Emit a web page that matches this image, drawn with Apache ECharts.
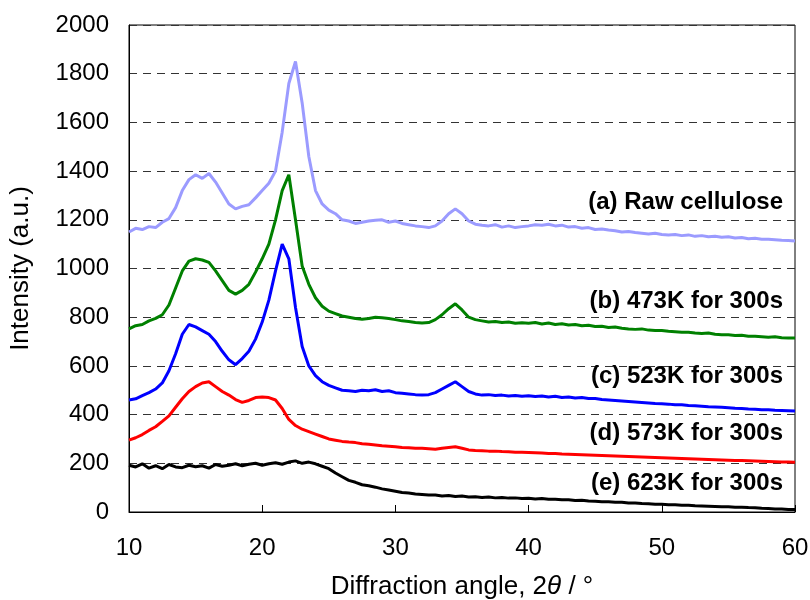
<!DOCTYPE html>
<html>
<head>
<meta charset="utf-8">
<script src="https://cdn.jsdelivr.net/npm/echarts@6/dist/echarts.min.js"></script>
<style>html,body{margin:0;padding:0;background:#fff}#c{width:810px;height:600px}</style>
</head>
<body>
<div id="c"></div>
<script>
// Sampling grid: 10° to 60° in 0.5° steps
const angleStart = 10, angleStep = 0.5;

const rawCellulose = [1150,1165,1160,1172,1168,1190,1205,1250,1320,1365,1385,1370,1390,1355,1310,1265,1245,1255,1262,1290,1320,1350,1400,1560,1760,1850,1680,1460,1320,1265,1240,1225,1200,1195,1185,1190,1195,1198,1200,1190,1195,1185,1180,1175,1172,1168,1175,1195,1225,1245,1225,1195,1182,1178,1175,1180,1170,1175,1168,1172,1175,1180,1178,1182,1175,1178,1170,1172,1165,1168,1160,1162,1158,1155,1150,1152,1148,1145,1142,1145,1140,1138,1140,1135,1138,1132,1135,1130,1132,1128,1130,1125,1127,1122,1124,1120,1120,1118,1116,1115,1113];
const k473 = [752,765,770,785,795,810,850,920,990,1030,1040,1035,1025,990,950,910,895,910,935,985,1040,1100,1200,1320,1385,1200,1010,935,880,845,825,815,805,800,795,792,795,800,798,795,790,785,782,778,776,778,790,810,835,855,830,800,790,785,780,782,778,780,775,777,775,778,772,776,770,773,768,770,765,767,762,763,758,760,755,752,750,752,747,745,745,742,740,738,738,735,733,735,730,728,728,725,726,722,722,720,718,720,716,715,715];
const k523 = [460,465,478,490,505,530,580,650,730,770,760,745,730,700,660,625,605,630,660,710,780,870,990,1100,1040,840,680,600,560,535,520,510,500,498,495,500,498,502,495,498,490,488,485,482,480,482,490,505,520,535,515,495,485,480,482,478,480,476,478,475,477,474,476,472,475,470,472,468,470,466,466,462,460,458,456,454,452,450,448,446,445,443,440,440,437,436,434,432,431,430,428,426,425,423,422,420,420,418,417,416,415];
const k573 = [295,305,318,335,350,372,395,430,465,495,515,530,535,515,495,480,462,450,458,470,472,470,460,425,380,355,340,330,320,310,300,295,290,287,285,280,278,275,272,270,268,265,264,262,262,260,258,262,265,268,262,255,253,252,250,250,248,247,245,245,244,243,242,240,240,238,237,236,235,234,233,232,231,230,229,228,227,226,225,224,223,222,221,220,219,218,217,216,215,214,213,212,211,210,209,208,207,206,205,205,204];
const k623 = [192,185,198,180,190,178,195,185,182,192,186,190,180,195,188,192,198,190,196,200,192,198,202,196,205,210,200,205,198,188,178,160,145,130,122,112,108,102,95,90,85,80,78,74,72,70,70,66,68,64,66,62,63,60,62,58,60,57,58,55,56,53,55,52,52,50,50,47,48,45,44,42,42,40,40,37,37,35,34,32,32,30,30,28,28,26,25,24,23,22,22,20,20,18,17,15,14,12,12,10,10];

const seriesNames = ['(a) Raw cellulose','(b) 473K for 300s','(c) 523K for 300s','(d) 573K for 300s','(e) 623K for 300s'];
const seriesColors = ['#9b9bff','#008000','#0000ff','#ff0000','#000000'];
const seriesValues = [rawCellulose,k473,k523,k573,k623];
const xTicks = [10,20,30,40,50,60];
const yTicks = [0,200,400,600,800,1000,1200,1400,1600,1800,2000];

const FONT = 'Arial, "Liberation Sans", sans-serif';

function toPairs(vals){ return vals.map((v,i)=>[angleStart + i*angleStep, v]); }

const chart = echarts.init(document.getElementById('c'), null, {renderer:'canvas'});

const labelY = [203, 302, 377, 434, 484];

chart.setOption({
  animation:false,
  backgroundColor:'#fff',
  grid:{left:129,right:15,top:25,bottom:88,show:true,borderColor:'#000',borderWidth:1,backgroundColor:'transparent',outerBoundsMode:'none',containLabel:false},
  xAxis:{
    type:'value',min:10,max:60,interval:10,
    axisLine:{show:true,lineStyle:{color:'#000',width:1}},
    axisTick:{show:true,inside:true,length:7,lineStyle:{color:'#000'}},
    splitLine:{show:false},
    axisLabel:{color:'#000',fontSize:24,fontFamily:FONT,margin:24,formatter:v=>String(v)},
    name:'Diffraction angle, 2{i|θ} / °',
    nameLocation:'middle',nameGap:62,
    nameTextStyle:{color:'#000',fontSize:26,fontFamily:FONT,rich:{i:{fontStyle:'italic',fontSize:26,fontFamily:FONT,color:'#000'}}}
  },
  yAxis:{
    type:'value',min:0,max:2000,interval:200,
    axisLine:{show:true,lineStyle:{color:'#000',width:1}},
    axisTick:{show:false},
    splitLine:{show:true,lineStyle:{color:'#333',type:[8,6],width:1}},
    axisLabel:{color:'#000',fontSize:24,fontFamily:FONT,margin:20,formatter:v=>String(v)},
    name:'Intensity (a.u.)',nameLocation:'middle',nameGap:95,
    nameTextStyle:{color:'#000',fontSize:26,fontFamily:FONT}
  },
  series: seriesValues.map((vals,i)=>({
    type:'line',name:seriesNames[i],data:toPairs(vals),showSymbol:false,symbol:'none',
    lineStyle:{color:seriesColors[i],width:3},itemStyle:{color:seriesColors[i]},
    z:2+i
  })),
  graphic: seriesNames.map((n,i)=>({
    type:'text',right:27,top:labelY[i]-13,z:100,
    style:{text:n,font:'bold 24px ' + FONT,fill:'#000',textAlign:'right'}
  }))
});
</script>
</body>
</html>
